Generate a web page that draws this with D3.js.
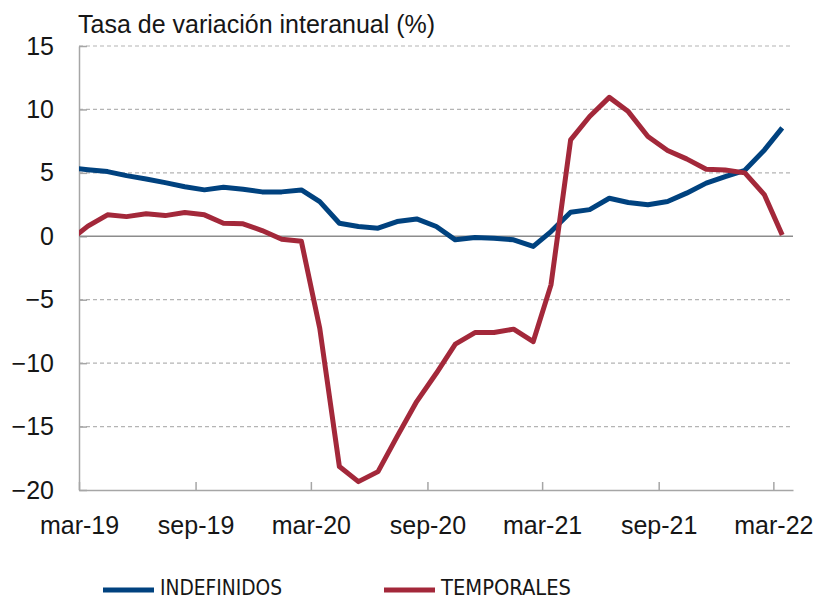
<!DOCTYPE html>
<head>
<meta charset="utf-8">
<style>
body { margin: 0; background: #fff; }
.axis text { font: 25px "Liberation Sans", Arial, sans-serif; fill: #161616; }
.axis path, .axis line { stroke: #a6a6a6; stroke-width: 1.5px; }
.grid { stroke: #b4b4b4; stroke-width: 1.2px; stroke-dasharray: 4,3; }
.zero { stroke: #8c8c8c; stroke-width: 1.5px; }
.serie { fill: none; stroke-width: 5px; stroke-linejoin: round; }
.legend text { font: 22px "Liberation Sans Narrow", "DejaVu Sans Condensed", sans-serif; fill: #161616; }
</style>
<title>Tasa de variación interanual</title>
</head>
<body>
<svg width="830" height="600"></svg>
<script src="https://cdn.jsdelivr.net/npm/d3@7"></script>
<script>
// meses (dato a mitad de mes); feb-19 queda recortado por el eje
var meses = ["2019-02","2019-03","2019-04","2019-05","2019-06","2019-07","2019-08","2019-09","2019-10","2019-11","2019-12",
  "2020-01","2020-02","2020-03","2020-04","2020-05","2020-06","2020-07","2020-08","2020-09","2020-10","2020-11","2020-12",
  "2021-01","2021-02","2021-03","2021-04","2021-05","2021-06","2021-07","2021-08","2021-09","2021-10","2021-11","2021-12",
  "2022-01","2022-02","2022-03"]

var indefinidos = [5.4, 5.25, 5.10, 4.78, 4.52, 4.23, 3.91, 3.66, 3.87, 3.71, 3.50,
  3.50, 3.65, 2.73, 1.03, 0.77, 0.64, 1.16, 1.37, 0.77, -0.28, -0.10, -0.15,
  -0.28, -0.80, 0.37, 1.90, 2.10, 3.00, 2.66, 2.48, 2.74, 3.40, 4.19, 4.71,
  5.20, 6.81, 8.55]

var temporales = [-0.3, 0.8, 1.69, 1.55, 1.77, 1.63, 1.87, 1.69, 1.03, 0.98, 0.45,
  -0.23, -0.40, -7.25, -18.15, -19.34, -18.55, -15.79, -13.03, -10.8, -8.5, -7.59, -7.59,
  -7.32, -8.3, -3.83, 7.6, 9.44, 10.95, 9.83, 7.86, 6.76, 6.1, 5.29, 5.23,
  5.0, 3.26, 0.1]

var xTicks = ["2019-03","2019-09","2020-03","2020-09","2021-03","2021-09","2022-03"]
var xTickLabels = ["mar-19","sep-19","mar-20","sep-20","mar-21","sep-21","mar-22"]
var yTicks = [-20, -15, -10, -5, 0, 5, 10, 15]

var series = [
  {name: "INDEFINIDOS", values: indefinidos, color: "#00427f"},
  {name: "TEMPORALES", values: temporales, color: "#a3283a"}
]

var svg = d3.select("svg"),
    margin = {top: 46, right: 37, bottom: 110, left: 79},
    width = +svg.attr("width") - margin.left - margin.right,
    height = +svg.attr("height") - margin.top - margin.bottom

var parseMonth = d3.timeParse("%Y-%m")
var midMonth = s => d3.timeDay.offset(parseMonth(s), 14)

var x = d3.scaleTime()
    .domain([parseMonth("2019-03"), parseMonth("2022-04")])
    .range([0, width])
var y = d3.scaleLinear().domain([-20, 15]).range([height, 0])

var g = svg.append("g")
    .attr("transform", "translate(" + margin.left + "," + margin.top + ")")

g.append("clipPath").attr("id", "clip")
  .append("rect").attr("x", 0).attr("y", -margin.top).attr("width", width).attr("height", height + margin.top + 20)

// rejilla
g.selectAll(".grid")
  .data(yTicks.filter(d => d !== 0 && d !== -20))
  .enter().append("line")
    .attr("class", "grid")
    .attr("x1", 0).attr("x2", width)
    .attr("y1", d => y(d)).attr("y2", d => y(d))

g.append("g")
    .attr("class", "axis axis--x")
    .attr("transform", "translate(0," + height + ")")
    .call(d3.axisBottom(x)
      .tickValues(xTicks.map(parseMonth))
      .tickFormat((d, i) => xTickLabels[i])
      .tickSize(-8).tickSizeOuter(0).tickPadding(26))

g.append("g")
    .attr("class", "axis axis--y")
    .call(d3.axisLeft(y)
      .tickValues(yTicks)
      .tickSize(-8).tickSizeOuter(0).tickPadding(25))

g.append("line")
    .attr("class", "zero")
    .attr("x1", 0).attr("x2", width)
    .attr("y1", y(0)).attr("y2", y(0))

var line = d3.line()
    .x((d, i) => x(midMonth(meses[i])))
    .y(d => y(d))

g.selectAll(".serie")
  .data(series)
  .enter().append("path")
    .attr("class", "serie")
    .attr("clip-path", "url(#clip)")
    .attr("stroke", d => d.color)
    .attr("d", d => line(d.values))

// titulo
svg.append("text")
    .attr("x", 78).attr("y", 33)
    .style("font", '25px "Liberation Sans", Arial, sans-serif')
    .style("fill", "#161616")
    .text("Tasa de variación interanual (%)")

// leyenda
var legend = svg.append("g").attr("class", "legend")
var lx = d3.scalePoint().domain(series.map(d => d.name)).range([103, 384])
var item = legend.selectAll("g")
  .data(series)
  .enter().append("g")
    .attr("transform", d => "translate(" + lx(d.name) + ",590)")
item.append("line")
    .attr("x1", 0).attr("x2", 51)
    .attr("stroke", d => d.color).attr("stroke-width", 5)
item.append("text")
    .attr("x", 57).attr("y", 5)
    .attr("textLength", d => d.name === "INDEFINIDOS" ? 122 : 130)
    .attr("lengthAdjust", "spacingAndGlyphs")
    .text(d => d.name)
</script>
</body>
